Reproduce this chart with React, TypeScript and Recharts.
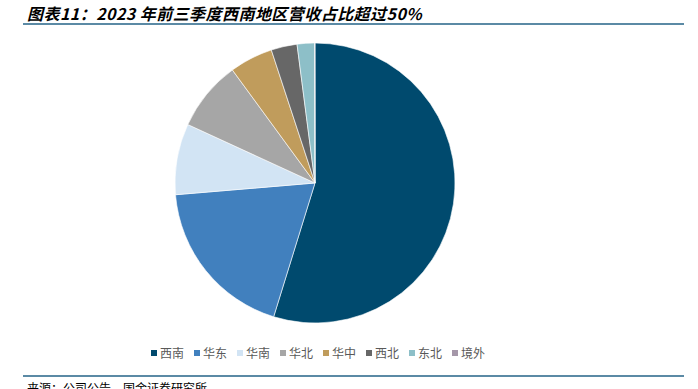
import { PieChart, Pie, Cell, Legend } from "recharts";

const regions = ["西南", "华东", "华南", "华北", "华中", "西北", "东北", "境外"];
const shares = [54.8, 18.9, 8.2, 8.1, 5.0, 3.0, 2.0, 0.05];
const colors = ["#004a6e", "#4180be", "#d2e4f4", "#a6a6a6", "#c09c5c", "#676767", "#8dbfc8", "#a597a9"];

const data = regions.map((name, i) => ({ name, value: shares[i] }));

const FONT = '"Noto Sans CJK SC", "Noto Sans", sans-serif';

function RegionLegend() {
  return (
    <div style={{ display: "flex", justifyContent: "center", fontFamily: FONT, fontSize: 12, color: "#595959" }}>
      {regions.map((r, i) => (
        <div key={r} style={{ display: "flex", alignItems: "center", marginRight: i === regions.length - 1 ? 0 : 10 }}>
          <span style={{ width: 6, height: 6, background: colors[i], marginRight: 3, display: "inline-block" }} />
          <span>{r}</span>
        </div>
      ))}
    </div>
  );
}

export default function App() {
  return (
    <div style={{ position: "absolute", left: 0, top: 0, width: 698, height: 389, background: "#fff", overflow: "hidden" }}>
      <div style={{ position: "absolute", left: 27, top: 1, fontFamily: FONT, fontSize: 16, fontWeight: 700, fontStyle: "italic", letterSpacing: 0.45, color: "#000", whiteSpace: "nowrap" }}>
        图表11：2023 年前三季度西南地区营收占比超过50%
      </div>
      <div style={{ position: "absolute", left: 23, top: 23, width: 661, height: 2, background: "#5b8aa5" }} />
      <PieChart width={698} height={389} margin={{ top: 0, right: 0, bottom: 0, left: 0 }}>
        <Pie
          data={data}
          dataKey="value"
          nameKey="name"
          cx={315}
          cy={183}
          outerRadius={140}
          startAngle={90}
          endAngle={-270}
          stroke="#fff"
          strokeWidth={0.6}
          isAnimationActive={false}
        >
          {data.map((d, i) => (
            <Cell key={d.name} fill={colors[i]} />
          ))}
        </Pie>
        <Legend
          content={() => <RegionLegend />}
          wrapperStyle={{ position: "absolute", top: 344, left: 0, width: 636 }}
        />
      </PieChart>
      <div style={{ position: "absolute", left: 23, top: 375, width: 661, height: 2, background: "#5b8aa5" }} />
      <div style={{ position: "absolute", left: 27, top: 379, fontFamily: FONT, fontSize: 12, color: "#000", whiteSpace: "nowrap" }}>
        来源：公司公告、国金证券研究所
      </div>
    </div>
  );
}
